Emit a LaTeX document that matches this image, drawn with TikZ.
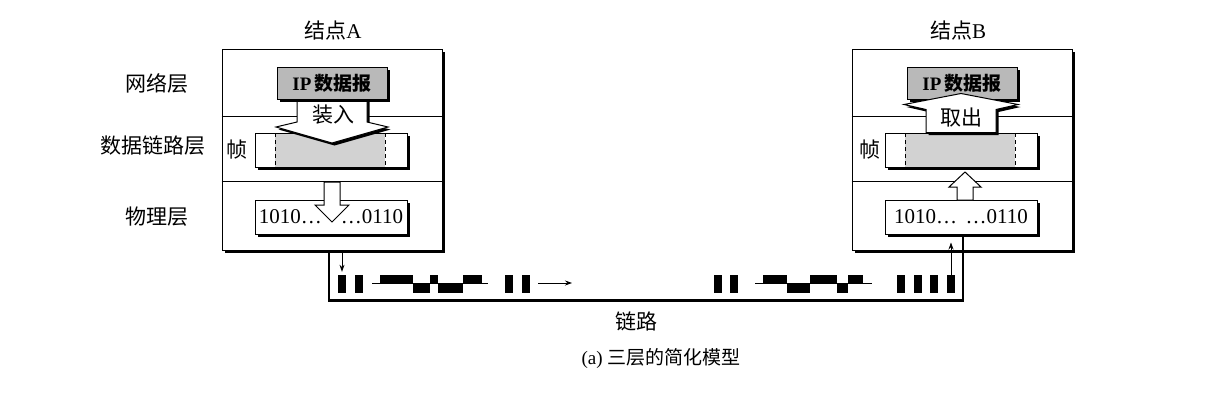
\documentclass[tikz,border=0pt]{standalone}
\usepackage{fontspec}
\setmainfont{Liberation Serif}
\newfontfamily\cjk{Noto Sans CJK SC}
\usetikzlibrary{shadows,calc,arrows.meta}
\begin{document}
\begin{tikzpicture}[x=1pt,y=-1pt,
  shad/.style={drop shadow={shadow xshift=2.5pt,shadow yshift=-2.5pt,opacity=1,fill=black}},
  nodebox/.style={draw=black,line width=1pt,fill=white,minimum width=220pt,minimum height=201pt,inner sep=0pt,shad},
  ipbox/.style={draw=black,line width=1pt,fill=gray!55,minimum width=110pt,minimum height=32pt,inner sep=0pt,shad,font=\fontsize{19}{19}\selectfont\bfseries},
  framebox/.style={draw=black,line width=1pt,fill=white,minimum width=152pt,minimum height=34pt,inner sep=0pt,shad},
  frameinner/.style={framebox,path picture={
      \fill[gray!35] ([xshift=20pt]path picture bounding box.north west) rectangle ([xshift=-22pt]path picture bounding box.south east);
      \draw[line width=0.8pt,dash pattern=on 4pt off 3pt] ([xshift=20pt]path picture bounding box.north west) -- ([xshift=20pt]path picture bounding box.south west);
      \draw[line width=0.8pt,dash pattern=on 4pt off 3pt] ([xshift=-22pt]path picture bounding box.north east) -- ([xshift=-22pt]path picture bounding box.south east);}},
  bitsbox/.style={framebox,font=\fontsize{21}{21}\selectfont},
  lbl/.style={font=\fontsize{21}{21}\selectfont\cjk,inner sep=0pt},
  blockarrow/.style={draw=black,line width=1pt,fill=white,line join=miter},
  bigarrow/.style={blockarrow,shad},
  divider/.style={draw=black,line width=0.8pt},
  blk/.style={fill=black,minimum width=8pt,minimum height=18pt,inner sep=0pt},
  link/.style={draw=black,line width=2.2pt},
  sig/.style={draw=black,line width=0.8pt,-{Stealth[length=7pt,width=5pt]}},
  wave/.style={draw=black,line width=0.7pt},
]
\useasboundingbox (0,0) rectangle (1215,402);

% node boxes
\node[nodebox] (A) at (332,149.5) {};
\node[nodebox] (B) at (962,149.5) {};
\draw[divider] ($(A.north west)+(0,68)$) -- ($(A.north east)+(0,68)$);
\draw[divider] ($(A.north west)+(0,133)$) -- ($(A.north east)+(0,133)$);
\draw[divider] ($(B.north west)+(0,68)$) -- ($(B.north east)+(0,68)$);
\draw[divider] ($(B.north west)+(0,133)$) -- ($(B.north east)+(0,133)$);

% frames and bit boxes
\node[frameinner] (Af) at (331,150) {};
\node[frameinner] (Bf) at (961,150) {};
\node[bitsbox] (Ab) at (331,217) {1010…\hspace{0.9em}…0110};
\node[bitsbox] (Bb) at (961,217) {1010…\hspace{0.4em}…0110};

% node A: big arrow under IP box
\coordinate (Atop) at (332,99);
\path[bigarrow,shift={(Atop)}] (-35,0) -- (-35,23) -- (-56,28) -- (0,44) -- (56,28) -- (35,23) -- (35,0) -- cycle;
\node[ipbox] (Aip) at (332,83) {IP\,{\cjk 数据报}};
\node[lbl] (Ain) at (333,115) {装入};

% node B: IP box then big arrow over it
\node[ipbox] (Bip) at (962,83) {IP\,{\cjk 数据报}};
\path[bigarrow,shift={(Bf.north)}] (-35,0) -- (-35,-23) -- (-57,-28) -- (0,-39) -- (57,-28) -- (35,-23) -- (35,0) -- cycle;
\node[lbl] (Bout) at (961,118) {取出};

% physical layer arrows
\coordinate (Aph) at (332,182);
\path[blockarrow,shift={(Aph)}] (-8,0) -- (-8,23) -- (-17,23) -- (0,40) -- (17,23) -- (8,23) -- (8,0) -- cycle;
\coordinate (Bph) at (965,200);
\path[blockarrow,shift={(Bph)}] (-8,0) -- (-8,-13) -- (-16,-13) -- (0,-28) -- (16,-13) -- (8,-13) -- (8,0) -- cycle;

% labels
\node[lbl] (tA) at (333,30) {结点{\rmfamily A}};
\node[lbl] (tB) at (958,30) {结点{\rmfamily B}};
\node[lbl] (l1) at (157,83) {网络层};
\node[lbl] (l2) at (153,146) {数据链路层};
\node[lbl] (l3) at (157,217) {物理层};
\node[lbl] (fA) at (237,150) {帧};
\node[lbl] (fB) at (870,150) {帧};

% signal blocks
\node[blk] (a1) at (342,284) {};
\node[blk] (a2) at (359,284) {};
\node[blk] (a3) at (509,284) {};
\node[blk] (a4) at (525.5,284) {};
\node[blk] (b1) at (717.5,284) {};
\node[blk] (b2) at (734,284) {};
\node[blk] (b3) at (901,284) {};
\node[blk] (b4) at (917.5,284) {};
\node[blk] (b5) at (934,284) {};
\node[blk] (b6) at (951,284) {};

% waveforms
\draw[wave] (372,283) -- (488,283);
\fill (380,275) rectangle (413,283);
\fill (413,283) rectangle (430,293);
\fill (430,275) rectangle (438,283);
\fill (438,283) rectangle (463,293);
\fill (463,275) rectangle (482,283);
\draw[wave] (755,283) -- (872,283);
\fill (763,275) rectangle (787,283);
\fill (787,283) rectangle (810,293);
\fill (810,275) rectangle (837,283);
\fill (837,283) rectangle (848,293);
\fill (848,275) rectangle (863,283);

% link
\draw[link] ($(A.south)+(-3,0)$) -- ++(0,50) -| ($(Bb.south)+(2,0)$);
\draw[sig,shorten >=3pt] (a1.north |- A.south) -- (a1.north);
\draw[sig] (b6.north) -- ($(b6.north |- B.south)+(0,-8)$);
\coordinate (sa) at (538,283);
\coordinate (se) at (572,283);
\draw[sig] (sa) -- (se);

\node[lbl] (lk) at (636,321) {链路};
\node[font=\fontsize{19}{19}\selectfont,inner sep=0pt] (cap) at (661,358) {(a) {\cjk 三层的简化模型}};
\end{tikzpicture}
\end{document}
